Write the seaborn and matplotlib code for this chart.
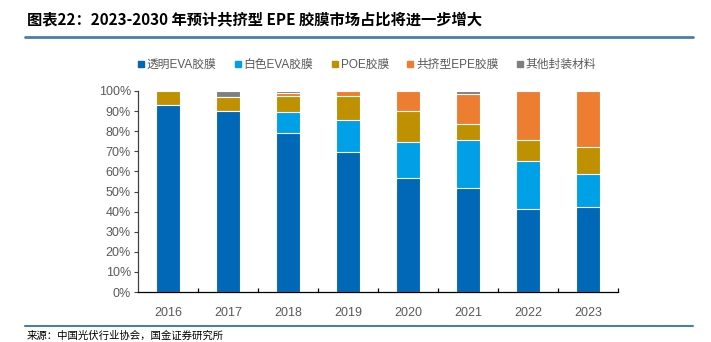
import matplotlib
matplotlib.use("Agg")
import matplotlib.pyplot as plt
import numpy as np
import pandas as pd
import seaborn as sns
from matplotlib.lines import Line2D
from matplotlib.ticker import PercentFormatter

years = ["2016", "2017", "2018", "2019", "2020", "2021", "2022", "2023"]
series_names = ["透明EVA胶膜", "白色EVA胶膜", "POE胶膜", "共挤型EPE胶膜", "其他封装材料"]
clear_eva = [93.0, 90.2, 79.0, 69.5, 56.5, 51.7, 41.5, 42.5]
white_eva = [0.0, 0.0, 10.4, 16.0, 17.9, 23.7, 23.6, 16.0]
poe = [7.0, 6.8, 8.3, 12.0, 15.8, 8.3, 10.7, 13.5]
epe = [0.0, 0.0, 1.1, 2.5, 9.8, 14.6, 24.2, 28.0]
other = [0.0, 3.0, 1.2, 0.0, 0.0, 1.7, 0.0, 0.0]
colors = ["#0068B7", "#00A0E6", "#BF9000", "#ED7D31", "#7F7F7F"]

title = "图表22：2023-2030 年预计共挤型 EPE 胶膜市场占比将进一步增大"
source = "来源：中国光伏行业协会，国金证券研究所"

sns.set_theme(style="white")
plt.rcParams["font.family"] = ["Liberation Sans", "Noto Sans CJK SC", "DejaVu Sans"]

values = np.array([clear_eva, white_eva, poe, epe, other])
cum = np.cumsum(values, axis=0)

fig = plt.figure(figsize=(7.11, 3.42), dpi=100)
ax = fig.add_axes([0.194, 0.146, 0.675, 0.588])

# stacked layers: draw the tallest cumulative layer first
for i in range(len(series_names) - 1, -1, -1):
    df = pd.DataFrame({"year": years, "value": cum[i]})
    sns.barplot(data=df, x="year", y="value", color=colors[i], saturation=1,
                width=0.4, edgecolor="white", linewidth=0.8, ax=ax)

ax.set_ylim(0, 100)
ax.set_xlim(-0.5, len(years) - 0.5)
ax.set_yticks(np.arange(0, 101, 10))
ax.yaxis.set_major_formatter(PercentFormatter(decimals=0))
ax.set_xlabel("")
ax.set_ylabel("")
for s in ["top", "right"]:
    ax.spines[s].set_visible(False)
ax.spines["left"].set_color("#404040")
ax.spines["bottom"].set_color("#000000")
ax.spines["left"].set_linewidth(0.9)
ax.spines["bottom"].set_linewidth(0.9)
ax.tick_params(axis="y", which="both", left=True, direction="out", length=3,
               width=0.8, color="#404040", labelsize=9, labelcolor="#595959", pad=2)
ax.tick_params(axis="x", which="major", bottom=False, labelsize=9,
               labelcolor="#595959", pad=5)
ax.set_xticks(np.arange(0.5, len(years) - 0.5 + 0.01, 1.0), minor=True)
ax.tick_params(axis="x", which="minor", bottom=True, direction="in", length=3,
               width=0.9, color="#000000")

handles = [Line2D([0], [0], marker="s", linestyle="", markersize=4.5,
                  markerfacecolor=c, markeredgecolor=c) for c in colors]
fig.legend(handles, series_names, loc="center", bbox_to_anchor=(0.515, 0.81),
           ncol=5, frameon=False, fontsize=8.5, handletextpad=0.1,
           columnspacing=1.4, labelcolor="#595959", handlelength=0.8)

fig.text(0.038, 0.94, title, fontsize=11, fontweight="bold", color="#000000",
         va="center", ha="left", style="italic",
         family=["Noto Sans CJK SC", "DejaVu Sans"])
fig.add_artist(Line2D([0.035, 0.975], [0.892, 0.892], transform=fig.transFigure,
                      color="#4A7EAA", linewidth=2))
fig.add_artist(Line2D([0.035, 0.975], [0.047, 0.047], transform=fig.transFigure,
                      color="#4A7EAA", linewidth=1.5))
fig.text(0.038, 0.018, source, fontsize=7.5, color="#000000", va="center", ha="left",
         family=["Noto Sans CJK SC", "DejaVu Sans"])

fig.savefig("out.png", dpi=100)
